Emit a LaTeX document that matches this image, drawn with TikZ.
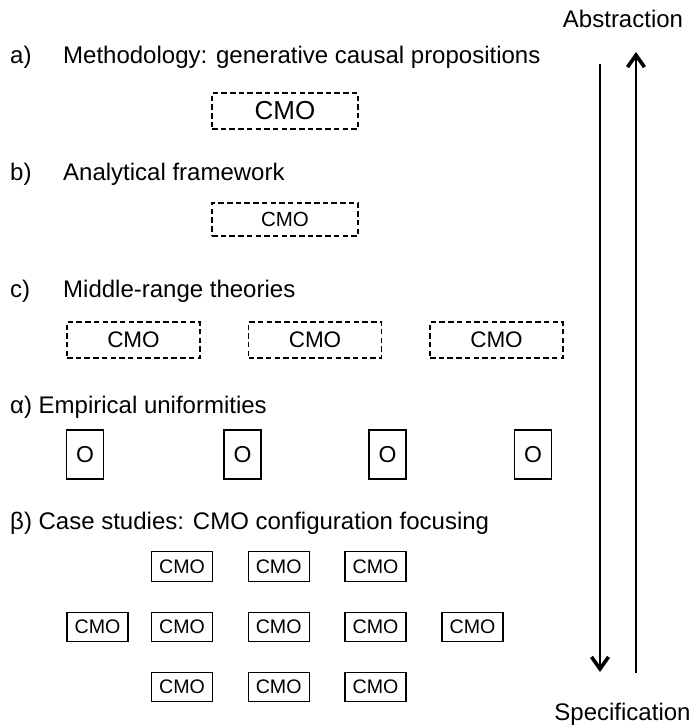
\documentclass[tikz,border=0pt]{standalone}
\usepackage{fontspec}
\setmainfont{Liberation Sans}
\usetikzlibrary{arrows.meta}

\begin{document}
\begin{tikzpicture}[x=1pt,y=-1pt,
  heading/.style={anchor=base west, inner sep=0pt, font=\fontsize{24}{28}\selectfont},
  dashbox/.style={draw, line width=1.2pt, dash pattern=on 5.5pt off 3.2pt,
    inner sep=0pt, minimum width=#1},
  solidbox/.style={draw, line width=1.2pt, inner sep=0pt},
  casebox/.style={solidbox, minimum width=61pt, minimum height=29.5pt,
    font=\fontsize{19.6}{22}\selectfont},
  obox/.style={solidbox, minimum width=37pt, minimum height=49pt,
    font=\fontsize{23}{26}\selectfont},
  axis/.style={line width=1.5pt,
    -{Straight Barb[length=12pt, width=17pt, line width=3.6pt]}},
  endlabel/.style={inner sep=0pt, font=\fontsize{24}{28}\selectfont}]

\useasboundingbox (0,0) rectangle (693,726);

% level headings
\node[heading] (la)  at (10,63)  {a)};
\node[heading] (ta)  at (63,63)  {Methodology: generative causal propositions};
\node[heading] (lb)  at (10,180) {b)};
\node[heading] (tb)  at (63,180) {Analytical framework};
\node[heading] (lc)  at (10,297) {c)};
\node[heading] (tc)  at (63,297) {Middle-range theories};
\node[heading] (tal) at (10,413) {α) Empirical uniformities};
\node[heading] (tbe) at (10,529) {β) Case studies: CMO configuration focusing};

% abstract levels (dashed)
\node[dashbox=146pt, minimum height=36pt, font=\fontsize{26}{30}\selectfont]
  (a1) at (285,111) {CMO};
\node[dashbox=146pt, minimum height=33pt, font=\fontsize{20.5}{24}\selectfont]
  (b1) at (285,219.5) {CMO};
\foreach \x/\n in {133.5/1, 315/2, 496.5/3}
  \node[dashbox=133pt, minimum height=36pt, font=\fontsize{22.5}{26}\selectfont]
    (c\n) at (\x,340) {CMO};

% empirical uniformities
\foreach \x/\n in {85/1, 242.5/2, 387.5/3, 533/4}
  \node[obox] (o\n) at (\x,454.5) {O};

% case studies
\foreach \x/\n in {182/2, 278.7/3, 375.5/4}
  \node[casebox] (r1\n) at (\x,566.5) {CMO};
\foreach \x/\n in {97.5/1, 182/2, 278.7/3, 375.5/4, 472.5/5}
  \node[casebox] (r2\n) at (\x,627) {CMO};
\foreach \x/\n in {182/2, 278.7/3, 375.5/4}
  \node[casebox] (r3\n) at (\x,687) {CMO};

% abstraction / specification axis
\node[endlabel, anchor=base] (abs)  at (623,27)    {Abstraction};
\node[endlabel, anchor=base] (spec) at (622.5,720) {Specification};

\coordinate (downtop) at (600,64);
\coordinate (downend) at (600,672);
\coordinate (upbot)   at (636,673);
\coordinate (uptip)   at (636,52);

\draw[axis] (downtop) -- (downend);
\draw[axis] (upbot) -- (uptip);
\end{tikzpicture}
\end{document}
